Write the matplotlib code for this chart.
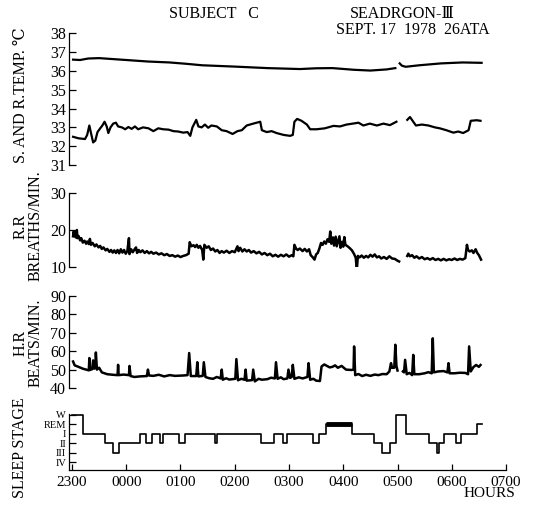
import numpy as np
from matplotlib import pyplot as plt

plt.rcParams['font.family'] = ['Liberation Serif', 'DejaVu Serif', 'DejaVu Sans']

nan = float('nan')

# Time axis: hours after 2300
hour_ticks = [0, 1, 2, 3, 4, 5, 6, 7, 8]
hour_labels = ['2300', '0000', '0100', '0200', '0300', '0400', '0500', '0600', '0700']

# Rectal temperature (upper curve)
rt_time = [0.02, 0.15, 0.3, 0.5, 0.8, 1.1, 1.4, 1.8, 2.1, 2.4, 3.0, 3.6, 4.2, 4.5,
           4.8, 5.2, 5.5, 5.8, 5.96, nan, 6.04, 6.08, 6.15, 6.4, 6.8, 7.2, 7.55]
rt_temp = [36.6, 36.58, 36.66, 36.68, 36.62, 36.56, 36.5, 36.45, 36.38, 36.3, 36.23,
           36.15, 36.1, 36.14, 36.15, 36.06, 36.02, 36.08, 36.15, nan, 36.4, 36.28,
           36.22, 36.3, 36.4, 36.45, 36.43]

# Skin temperature (lower curve)
st_time = [0.02, 0.12, 0.24, 0.28, 0.32, 0.35, 0.39, 0.43, 0.47, 0.52, 0.56, 0.60,
           0.64, 0.67, 0.71, 0.76, 0.81, 0.85, 0.92, 0.98, 1.04, 1.10, 1.16, 1.22,
           1.31, 1.41, 1.50, 1.59, 1.68, 1.78, 1.87, 1.96, 2.05, 2.13, 2.18, 2.22,
           2.29, 2.33, 2.39, 2.45, 2.51, 2.57, 2.67, 2.76, 2.85, 2.96, 3.05, 3.13,
           3.22, 3.34, 3.47, 3.50, 3.59, 3.68, 3.77, 3.90, 4.02, 4.07, 4.10, 4.15,
           4.23, 4.33, 4.39, 4.51, 4.66, 4.82, 4.94, 5.06, 5.22, 5.28, 5.37, 5.49,
           5.62, 5.74, 5.86, 5.98, nan, 6.18, 6.23, 6.29, 6.34, 6.45, 6.57, 6.69,
           6.78, 6.90, 7.03, 7.12, 7.21, 7.31, 7.35, 7.46, 7.53]
st_temp = [32.5, 32.42, 32.38, 32.6, 33.1, 32.7, 32.2, 32.3, 32.75, 32.95, 33.1, 33.3,
           33.05, 32.7, 33.0, 33.2, 33.25, 33.05, 33.0, 32.9, 33.02, 32.92, 33.05, 32.9,
           33.0, 32.95, 32.8, 32.95, 32.9, 32.88, 32.8, 32.78, 32.72, 32.75, 32.55, 33.0,
           33.4, 33.05, 33.0, 33.15, 32.98, 33.1, 33.05, 32.85, 32.8, 32.65, 32.8, 32.85,
           33.1, 33.2, 33.3, 32.85, 32.75, 32.8, 32.7, 32.6, 32.55, 32.6, 33.3, 33.45,
           33.35, 33.15, 32.9, 32.9, 32.95, 33.08, 33.05, 33.15, 33.22, 33.25, 33.1, 33.2,
           33.1, 33.2, 33.12, 33.3, nan, 33.4, 33.55, 33.3, 33.1, 33.15, 33.1, 33.0,
           32.95, 32.85, 32.72, 32.78, 32.7, 32.85, 33.35, 33.38, 33.35]

# Respiratory rate
rr_time = [0.02, 0.03, 0.05, 0.06, 0.07, 0.09, 0.10, 0.12, 0.15, 0.17, 0.2, 0.23, 0.26,
           0.28, 0.31, 0.33, 0.35, 0.38, 0.42, 0.45, 0.49, 0.52, 0.55, 0.58, 0.62, 0.65,
           0.69, 0.72, 0.75, 0.78, 0.81, 0.84, 0.87, 0.9, 0.93, 0.96, 0.99, 1.02, 1.05,
           1.06, 1.09, 1.12, 1.15, 1.18, 1.2, 1.23, 1.26, 1.3, 1.34, 1.38, 1.42, 1.46,
           1.5, 1.55, 1.6, 1.65, 1.7, 1.75, 1.8, 1.85, 1.9, 1.95, 2.0, 2.05, 2.1, 2.15,
           2.17, 2.2, 2.24, 2.27, 2.3, 2.33, 2.36, 2.4, 2.42, 2.44, 2.48, 2.52, 2.56,
           2.6, 2.64, 2.68, 2.72, 2.76, 2.8, 2.85, 2.9, 2.95, 3.0, 3.05, 3.07, 3.1, 3.14,
           3.18, 3.22, 3.26, 3.3, 3.35, 3.4, 3.45, 3.5, 3.55, 3.6, 3.65, 3.7, 3.75, 3.8,
           3.85, 3.9, 3.95, 4.0, 4.05, 4.08, 4.1, 4.13, 4.16, 4.2, 4.25, 4.29, 4.33,
           4.37, 4.4, 4.44, 4.47, 4.5, 4.53, 4.56, 4.59, 4.62, 4.65, 4.68, 4.71, 4.74,
           4.76, 4.78, 4.81, 4.83, 4.86, 4.88, 4.91, 4.93, 4.95, 4.98, 5.0, 5.02, 5.04,
           5.08, 5.12, 5.16, 5.2, 5.23, 5.25, 5.27, 5.3, 5.34, 5.38, 5.42, 5.46, 5.5,
           5.54, 5.58, 5.62, 5.66, 5.7, 5.75, 5.8, 5.85, 5.9, 5.95, 6.0, 6.03, nan,
           6.18, 6.2, 6.23, 6.27, 6.31, 6.35, 6.4, 6.45, 6.5, 6.55, 6.6, 6.65, 6.7,
           6.75, 6.8, 6.85, 6.9, 6.95, 7.0, 7.05, 7.1, 7.15, 7.2, 7.25, 7.28, 7.3,
           7.33, 7.37, 7.4, 7.44, 7.47, 7.5, 7.54]
rr_rate = [18.3, 19.6, 18.4, 19.2, 18.0, 20.0, 17.8, 18.4, 17.2, 17.8, 16.6, 17.1, 16.3,
           16.9, 16.2, 17.6, 16.0, 16.5, 15.6, 16.1, 15.3, 15.7, 14.9, 15.3, 14.5, 14.9,
           14.1, 14.6, 13.9, 14.5, 13.8, 14.6, 13.7, 14.8, 13.9, 14.6, 13.6, 14.3, 17.8,
           13.5, 14.8, 14.0, 14.7, 15.3, 13.8, 14.6, 14.0, 14.5, 13.8, 14.3, 13.7, 14.1,
           13.6, 13.9, 13.4, 13.7, 13.2, 13.5, 13.0, 13.2, 12.8, 13.1, 12.7, 13.0, 13.2, 13.6,
           16.7, 15.6, 15.9, 15.4, 16.0, 15.2, 15.7, 14.6, 12.0, 16.0, 15.2, 15.6, 14.6,
           15.0, 14.2, 14.6, 13.8, 14.3, 13.9, 14.4, 13.8, 14.3, 14.0, 15.6, 14.3, 15.2, 14.2,
           14.8, 14.2, 14.6, 13.9, 14.3, 13.7, 14.1, 13.4, 13.8, 13.2, 13.6, 12.9, 13.3, 12.8,
           13.3, 12.9, 13.4, 12.8, 13.2, 12.9, 16.0, 15.0, 14.6, 15.0, 14.3, 14.9, 14.2,
           14.8, 13.2, 12.6, 12.0, 13.4, 13.8, 15.0, 16.5, 16.0, 16.9, 16.3, 17.5, 16.8,
           19.6, 16.3, 18.0, 15.8, 18.2, 15.6, 17.2, 18.3, 15.2, 16.8, 15.5, 18.1, 16.0,
           15.6, 15.1, 14.5, 13.5, 12.5, 9.3, 13.0, 12.6, 13.1, 12.5, 13.0, 12.6, 13.3,
           12.8, 13.4, 12.6, 12.9, 12.3, 12.7, 12.2, 12.9, 12.3, 12.2, 11.7, 11.5, nan,
           13.0, 13.6, 12.9, 13.2, 12.5, 12.9, 12.3, 12.7, 12.1, 12.4, 12.0, 12.4, 11.9,
           12.2, 11.8, 12.2, 11.8, 12.1, 11.9, 12.3, 11.9, 12.2, 12.0, 12.4, 16.0, 14.6,
           14.2, 14.5, 13.8, 14.8, 13.8, 13.2, 12.0]

# Heart rate
hr_time = [0.02, 0.05, 0.12, 0.2, 0.28, 0.31, 0.32, 0.33, 0.37, 0.39, 0.41, 0.43, 0.44,
           0.46, 0.5, 0.55, 0.65, 0.75, 0.84, 0.85, 0.86, 0.95, 1.05, 1.06, 1.08, 1.15,
           1.25, 1.38, 1.4, 1.42, 1.5, 1.6, 1.7, 1.8, 1.9, 2.05, 2.13, 2.16, 2.19, 2.29,
           2.31, 2.33, 2.41, 2.43, 2.46, 2.53, 2.6, 2.67, 2.74, 2.76, 2.78, 2.84, 2.9,
           3.01, 3.03, 3.06, 3.12, 3.18, 3.2, 3.22, 3.32, 3.34, 3.37, 3.44, 3.5, 3.6,
           3.67, 3.74, 3.76, 3.79, 3.85, 3.9, 3.97, 3.99, 4.02, 4.05, 4.07, 4.1, 4.18,
           4.25, 4.34, 4.36, 4.39, 4.45, 4.5, 4.57, 4.6, 4.65, 4.7, 4.75, 4.8, 4.85, 4.9,
           4.97, 5.05, 5.15, 5.19, 5.2, 5.22, 5.28, 5.35, 5.42, 5.5, 5.58, 5.65, 5.72,
           5.8, 5.85, 5.88, 5.9, 5.94, 5.96, 5.98, 6.0, nan, 6.1, 6.12, 6.14, 6.17,
           6.22, 6.27, 6.29, 6.31, 6.4, 6.5, 6.57, 6.63, 6.65, 6.67, 6.75, 6.85, 6.92,
           6.94, 6.96, 7.05, 7.15, 7.25, 7.3, 7.32, 7.35, 7.4, 7.45, 7.5, 7.53]
hr_rate = [54.4, 52.3, 51.5, 50.5, 49.8, 49.6, 56.3, 49.8, 50.2, 55.0, 50.5, 51.0, 59.3,
           50.0, 51.0, 48.5, 47.5, 47.2, 47.0, 52.6, 47.0, 47.3, 47.0, 52.0, 46.5, 46.0,
           46.3, 46.5, 50.0, 46.8, 46.6, 47.2, 46.3, 47.0, 46.6, 46.8, 47.0, 59.0, 46.5,
           46.5, 54.0, 46.3, 46.6, 54.0, 46.0, 45.3, 45.0, 46.0, 45.2, 50.0, 44.5, 45.3,
           44.6, 45.0, 55.7, 44.2, 45.0, 44.5, 50.0, 44.0, 44.3, 50.0, 43.6, 45.0, 44.5,
           44.8, 45.6, 45.2, 54.0, 45.0, 45.8, 44.8, 45.2, 50.0, 45.5, 46.0, 52.6, 45.0,
           45.8, 45.2, 46.0, 53.5, 44.5, 45.0, 44.0, 43.8, 51.7, 52.8, 52.0, 51.2, 51.5,
           52.3, 51.0, 52.0, 50.0, 49.8, 50.0, 62.6, 47.0, 47.6, 46.5, 47.2, 46.6, 47.3,
           47.0, 47.6, 47.5, 49.0, 53.5, 51.0, 51.0, 63.5, 52.0, 49.5, nan, 49.0, 48.5,
           55.3, 47.5, 48.2, 47.0, 58.0, 47.5, 47.5, 48.0, 48.6, 48.0, 67.0, 48.5, 49.0,
           49.2, 48.5, 53.5, 48.0, 48.0, 48.3, 48.2, 47.5, 62.6, 49.0, 51.4, 52.5, 51.5,
           52.5]

# Sleep stages (start time of each period and stage)
stage_names = ['IV', 'III', 'II', 'I', 'REM', 'W']
stage_start = [0.0, 0.197, 0.614, 0.75, 0.86, 1.247, 1.364, 1.475, 1.616, 1.684, 1.972,
               2.089, 2.636, 2.679, 3.478, 3.724, 3.896, 3.957, 4.449, 4.559, 4.682,
               5.161, 5.567, 5.714, 5.862, 5.972, 6.157, 6.587, 6.722, 6.759, 6.857,
               7.078, 7.164, 7.459]
stage_end = 7.552
stage_value = ['W', 'I', 'II', 'III', 'II', 'I', 'II', 'I', 'II', 'I', 'II',
               'I', 'II', 'I', 'II', 'I', 'II', 'I', 'II', 'I', 'REM',
               'I', 'II', 'III', 'II', 'W', 'I', 'II', 'III', 'II', 'I',
               'II', 'I', 'REM']

fig = plt.figure(figsize=(5.37, 5.09), dpi=100)

left = 0.1285
width = 0.8138
xlim = (-0.055, 8.0)


def style_axis(ax, ylim, yticks):
    """Only the left spine with inward ticks, like the original plot."""
    ax.set_xlim(xlim)
    ax.set_ylim(ylim)
    ax.set_yticks(yticks)
    for side in ['top', 'right', 'bottom']:
        ax.spines[side].set_visible(False)
    ax.spines['left'].set_linewidth(0.9)
    ax.set_xticks([])
    ax.tick_params(axis='y', direction='in', length=5, width=0.9, pad=2, labelsize=11.5)
    ax.patch.set_visible(False)


# Temperatures
ax1 = fig.add_axes([left, 0.6758, width, 0.2588])
ax1.plot(rt_time, rt_temp, c='black', lw=1.6)
ax1.plot(st_time, st_temp, c='black', lw=1.6)
style_axis(ax1, (31, 38), range(31, 39))

# Respiratory rate
ax2 = fig.add_axes([left, 0.4754, width, 0.1454])
ax2.plot(rr_time, rr_rate, c='black', lw=1.8)
style_axis(ax2, (10, 30), [10, 20, 30])

# Heart rate
ax3 = fig.add_axes([left, 0.2377, width, 0.1808])
ax3.plot(hr_time, hr_rate, c='black', lw=1.8)
style_axis(ax3, (40, 90), range(40, 91, 10))

# Sleep stages
ax4 = fig.add_axes([left, 0.0766, width, 0.1179])
levels = [stage_names.index(s) for s in stage_value]
ax4.step(stage_start + [stage_end], levels + [levels[-1]], where='post', c='black', lw=1.2)
for i, s in enumerate(stage_value):
    t_end = stage_start[i + 1] if i + 1 < len(stage_start) else stage_end
    if s == 'REM' and t_end - stage_start[i] > 0.2:
        ax4.plot([stage_start[i], t_end], [levels[i], levels[i]], c='black', lw=3.5,
                 solid_capstyle='butt')
ax4.set_xlim(xlim)
ax4.set_ylim(-0.85, 5.53)
ax4.set_yticks(range(6))
ax4.set_yticklabels(stage_names)
ax4.spines['top'].set_visible(False)
ax4.spines['right'].set_visible(False)
ax4.spines['left'].set_bounds(-0.85, 5.1)
ax4.spines['left'].set_linewidth(0.9)
ax4.spines['bottom'].set_linewidth(0.9)
ax4.set_xticks(hour_ticks)
ax4.set_xticklabels(hour_labels)
ax4.tick_params(axis='y', direction='in', length=5, width=0.9, pad=2, labelsize=7.5)
ax4.tick_params(axis='x', direction='in', length=4, width=0.9, pad=4, labelsize=11)
ax4.patch.set_visible(False)

# Axis titles
fig.text(0.039, 0.813, 'S. AND R.TEMP. ℃', rotation=90, ha='center', va='center', fontsize=11.5)
fig.text(0.052, 0.556, 'R.R\nBREATHS/MIN.', rotation=90, ha='center', va='center',
         multialignment='center', linespacing=0.95, fontsize=11.5)
fig.text(0.052, 0.326, 'H.R\nBEATS/MIN.', rotation=90, ha='center', va='center',
         multialignment='center', linespacing=0.95, fontsize=11.5)
fig.text(0.037, 0.12, 'SLEEP STAGE', rotation=90, ha='center', va='center', fontsize=11.5)
fig.text(0.959, 0.0295, 'HOURS', ha='right', va='center', fontsize=11)

# Heading
fig.text(0.398, 0.9725, 'SUBJECT   C', ha='center', va='center', fontsize=11.5)
fig.text(0.750, 0.9725, 'SEADRGON-Ⅲ', ha='center', va='center', fontsize=11.5)
fig.text(0.769, 0.941, 'SEPT. 17  1978  26ATA', ha='center', va='center', fontsize=11.5)

fig.savefig('out.png', dpi=100)
